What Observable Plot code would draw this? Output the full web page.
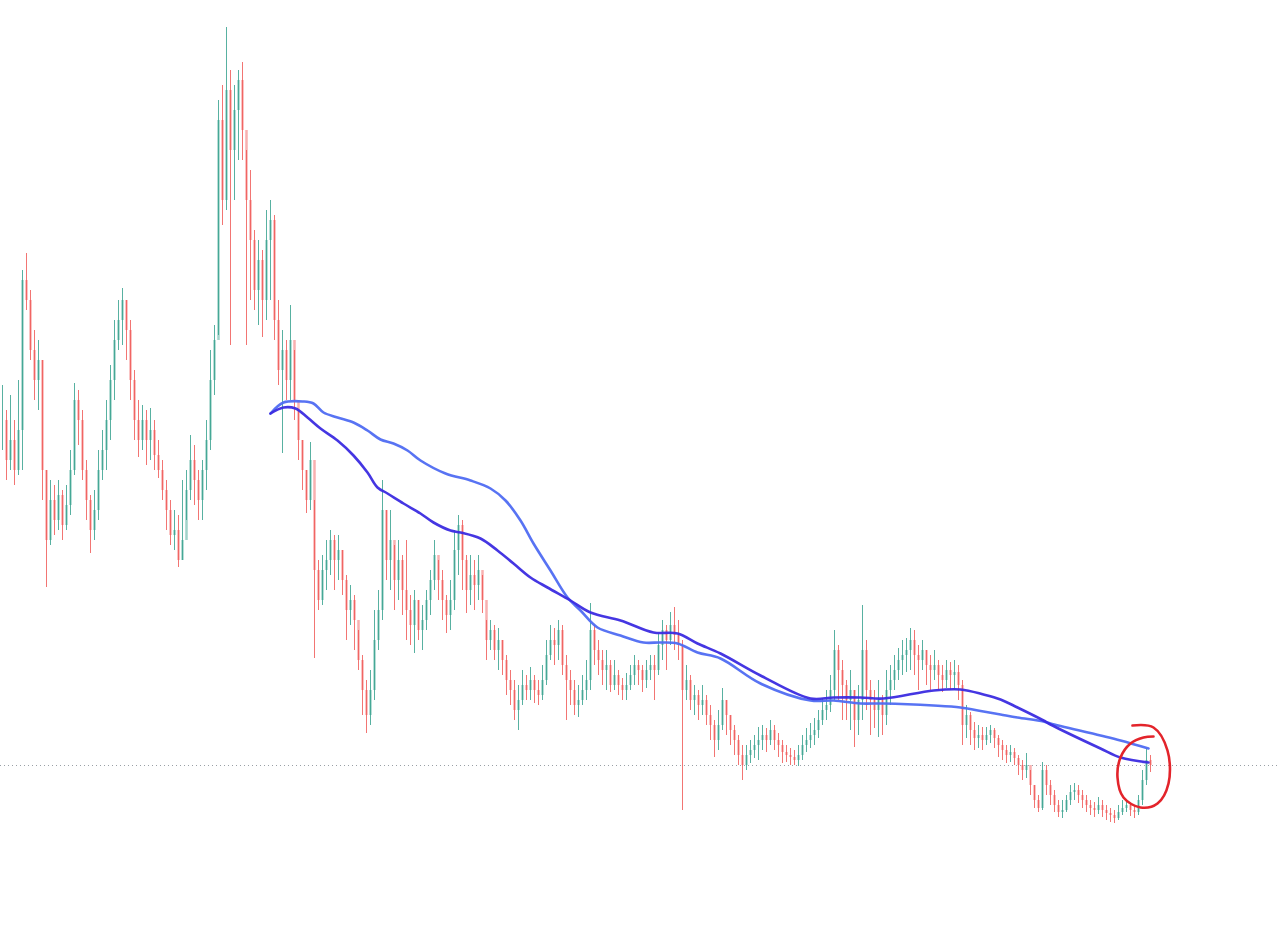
<!DOCTYPE html>
<html>
<head>
<meta charset="utf-8">
<script src="https://cdn.jsdelivr.net/npm/d3@7"></script>
<script src="https://cdn.jsdelivr.net/npm/@observablehq/plot@0.6"></script>
<style>
  html, body { margin: 0; padding: 0; background: #ffffff; }
  #chart { width: 1280px; height: 930px; }
</style>
</head>
<body>
<div id="chart"></div>
<script>
// ---- candle data (arbitrary price units) ----
const closes = [
510,470,490,460,500,650,630,580,550,570,460,390,430,410,435,405,425,460,530,510,
460,430,400,420,460,480,510,550,590,610,630,600,550,510,490,510,490,500,475,460,
440,420,395,400,370,390,440,470,450,430,460,490,550,590,810,730,840,780,820,850,
800,730,690,640,670,630,690,710,610,560,580,550,590,530,490,460,430,470,360,330,
360,370,390,370,380,350,320,330,310,270,240,215,240,290,320,420,370,390,350,370,
340,320,305,330,300,310,330,350,375,350,330,315,330,380,405,370,340,355,345,360,
330,290,300,280,290,270,250,240,220,230,245,240,250,240,235,250,275,290,285,300,
265,250,240,225,230,240,250,300,280,270,260,265,245,255,245,240,245,255,265,260,
250,260,265,260,285,300,290,305,295,285,240,250,230,235,225,230,215,205,190,205,
230,215,200,190,175,165,175,180,185,190,195,190,200,190,185,178,175,173,170,175,
185,190,195,200,210,220,225,240,280,260,245,230,240,210,230,280,240,230,220,230,
215,240,250,260,270,275,280,290,275,270,280,265,260,265,255,250,260,255,258,245,
205,215,200,192,195,190,195,200,192,185,180,175,178,172,165,160,165,145,130,122,
160,145,135,125,118,120,130,138,140,135,130,125,122,120,125,120,117,115,112,118,
122,125,120,118,130,150,170,165
];
const highs = [
545,520,535,510,550,660,677,640,600,590,570,460,450,445,450,440,445,480,547,540,
520,470,435,440,480,500,530,565,610,630,642,630,610,560,530,525,520,522,510,490,
470,450,430,420,415,450,460,495,485,460,470,510,580,605,830,845,903,860,845,860,
868,780,760,700,690,680,720,730,715,630,600,590,625,580,520,490,460,488,430,370,
375,390,400,395,395,380,355,345,335,300,275,250,260,320,340,450,420,420,385,390,
375,390,335,340,330,325,340,360,390,370,360,335,350,400,415,410,375,375,370,375,
355,310,310,305,302,290,275,260,250,245,260,255,263,255,250,265,290,305,302,310,
305,275,260,250,245,255,270,327,305,290,280,280,270,270,260,252,257,265,275,270,
265,270,275,275,297,310,305,318,323,310,290,265,255,245,240,245,235,225,210,220,
242,230,215,205,195,185,185,190,195,203,205,202,210,205,197,190,185,182,180,185,
195,202,207,212,220,232,240,255,300,285,270,250,260,240,245,325,290,250,240,250,
235,260,265,275,282,290,292,302,300,285,290,280,275,280,270,265,270,268,270,265,
250,225,218,208,205,203,203,205,202,195,190,185,185,182,175,170,177,160,145,135,
168,165,150,140,130,130,135,145,147,145,140,135,130,128,133,130,125,122,120,125,
130,130,127,125,135,160,182,175
];
const lows = [
480,450,460,445,455,460,620,570,530,520,430,343,385,395,400,390,400,415,455,485,
450,410,377,390,410,450,460,490,530,580,585,570,530,490,473,480,465,470,460,452,
430,400,385,380,363,370,410,430,425,410,410,440,480,535,595,705,720,585,730,770,
770,585,630,620,605,593,610,630,590,545,477,530,530,510,470,440,417,420,272,320,
325,340,355,340,350,335,290,305,280,260,215,197,205,230,280,310,350,340,320,330,
315,290,285,277,290,280,300,315,340,330,310,297,300,320,355,340,317,325,320,330,
317,270,280,270,260,255,235,225,210,200,225,230,230,227,225,230,245,270,265,270,
255,210,225,215,213,225,230,240,265,255,245,240,238,240,235,230,230,240,245,245,
238,242,250,230,255,270,260,285,280,270,120,230,220,215,210,215,205,190,173,180,
200,195,185,175,165,150,160,167,172,170,180,178,185,180,173,167,168,165,165,164,
170,178,182,185,192,205,210,218,230,230,210,210,200,183,195,210,220,195,202,193,
195,205,225,240,250,255,258,260,255,240,260,245,240,250,240,238,242,240,240,230,
185,192,185,180,182,180,185,187,182,173,170,167,168,165,155,150,152,135,122,118,
120,135,125,118,113,112,118,125,130,127,122,118,115,113,116,113,110,108,107,110,
115,118,114,112,115,125,145,158
];

const slowIdx = [67,70.25,75.25,77.75,80.25,83.75,87.75,91.25,94.5,97.75,101.25,104.5,110.75,117,122,125.75,129.5,132.75,137,141.25,144.5,148.75,154.5,160.25,164.5,168.75,173.75,179.5,189.5,202,207.75,214.5,220.25,232.75,239.5,245.25,249.5,253.75,260.25,262,274.5,279.5,286.5];
const slowVal = [517,528,529,527,518,513,508,500,491,487,480,470,457,450,442,430,410,387,360,333,320,303,295,288,288,287,278,272,247,230,230,227,227,225,223,219,216,213,209,207,195,190,182];
const fastIdx = [67,70.25,73.25,76.25,79.5,83.75,87.75,91.25,93.75,96.25,100.25,104.5,107.75,112,114.5,119.5,123.75,127.75,132,136.25,142,147,154.5,162.75,168.75,173.75,179.5,189.5,202,207.75,214.5,220.25,232.75,239.5,245.25,249.5,253.75,260.25,262,274.5,279.5,286.5];
const fastVal = [517,523,522,513,502,490,475,458,443,437,427,417,408,400,398,392,380,367,353,343,330,318,310,298,297,287,277,255,232,233,233,232,240,241,236,231,223,210,206,182,173,168];

// ---- hand-drawn red annotation ----
const circleIdx = [282.5,287.75,291.25,291.5,288.75,284.5,280.25,278.75,279.5,282,285.25,287.75];
const circleVal = [205,203,180,147,127,123,133,153,173,187,193,194];

// ---- build tables ----
const candles = closes.map((c, i) => {
  const o = i === 0 ? c : closes[i - 1];
  return { i, o, c, h: highs[i], l: lows[i], up: c >= o };
});
const slow = slowIdx.map((x, k) => ({ x, v: slowVal[k] }));
const fast = fastIdx.map((x, k) => ({ x, v: fastVal[k] }));
const circle = circleIdx.map((x, k) => ({ x, v: circleVal[k] }));
const last = closes[closes.length - 1];

const GREEN = "#2e9e8a", RED = "#ef5350";

const chart = Plot.plot({
  width: 1280,
  height: 930,
  margin: 0,
  style: { background: "#ffffff", overflow: "visible" },
  x: { type: "linear", domain: [-0.5, 319.5], axis: null },
  y: { domain: [0, 930], axis: null },
  marks: [
    Plot.ruleY([last], { stroke: "#9aa0a6", strokeDasharray: "1,3", strokeWidth: 1 }),
    Plot.ruleX(candles, { x: "i", y1: "l", y2: "h", stroke: d => d.up ? GREEN : RED, strokeWidth: 1, strokeOpacity: 0.8 }),
    Plot.ruleX(candles, { x: "i", y1: "o", y2: "c", stroke: d => d.up ? GREEN : RED, strokeWidth: 2.5, strokeOpacity: 0.45 }),
    Plot.line(slow, { x: "x", y: "v", stroke: "#4f6cf2", strokeWidth: 2.6, curve: "catmull-rom", strokeOpacity: 0.95 }),
    Plot.line(fast, { x: "x", y: "v", stroke: "#3b2be0", strokeWidth: 2.6, curve: "catmull-rom", strokeOpacity: 0.95 }),
    Plot.line(circle, { x: "x", y: "v", stroke: "#e3242b", strokeWidth: 2.6, curve: "catmull-rom" })
  ]
});
document.getElementById("chart").appendChild(chart);
</script>
</body>
</html>
